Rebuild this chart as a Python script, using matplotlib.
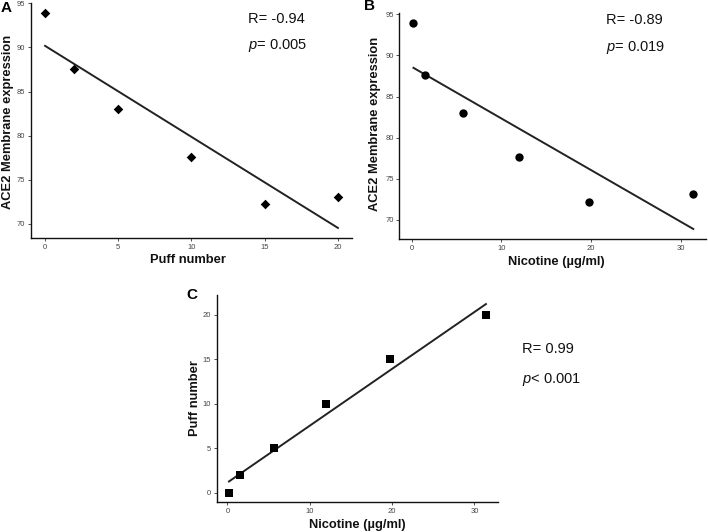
import numpy as np
import matplotlib
matplotlib.use("Agg")
import matplotlib.pyplot as plt

plt.rcParams['font.family'] = ['Liberation Sans', 'DejaVu Sans']
plt.rcParams['mathtext.fontset'] = 'custom'
plt.rcParams['mathtext.it'] = 'Liberation Sans:italic'
plt.rcParams['mathtext.rm'] = 'Liberation Sans'

# Data
puff_number = [0, 2, 5, 10, 15, 20]
nicotine = [0.2, 1.5, 5.7, 12.0, 19.8, 31.4]
ace2 = [93.9, 87.6, 83.0, 77.6, 72.2, 73.1]

ticks_A_x = [0, 5, 10, 15, 20]
ticks_ace2 = [70, 75, 80, 85, 90, 95]
ticks_nic = [0, 10, 20, 30]
ticks_puff = [0, 5, 10, 15, 20]

W, H = 708, 532
fig = plt.figure(figsize=(W / 100, H / 100), dpi=100)


def ax_px(l, t, r, b):
    return fig.add_axes([l / W, 1 - b / H, (r - l) / W, (b - t) / H])


def style(ax):
    for s in ['top', 'right']:
        ax.spines[s].set_visible(False)
    for s in ['left', 'bottom']:
        ax.spines[s].set_linewidth(1.0)
        ax.spines[s].set_color('#111111')
    ax.tick_params(length=2, width=0.6, labelsize=5.5, labelcolor='#444444',
                   color='#333333', pad=2)


def fig_text(x, y, s, **kw):
    fig.text(x / W, 1 - y / H, s, **kw)


def draw(ax, x, y, marker, ms):
    x = np.asarray(x, float)
    y = np.asarray(y, float)
    ax.scatter(x, y, marker=marker, s=ms, color='black', zorder=3, linewidths=0)
    k, c = np.polyfit(x, y, 1)
    xs = np.array([x.min(), x.max()])
    ax.plot(xs, k * xs + c, color='#222222', lw=1.4, zorder=2)


# Panel A
axA = ax_px(30.7, 3, 352, 238)
draw(axA, puff_number, ace2, 'D', 24)
axA.set_xlim(-0.98, 20.96)
axA.set_ylim(68.4, 95.03)
axA.set_xticks(ticks_A_x)
axA.set_yticks(ticks_ace2)
style(axA)

# Panel B
axB = ax_px(399.3, 13.3, 706, 239)
draw(axB, nicotine, ace2, 'o', 36)
axB.set_xlim(-1.38, 32.82)
axB.set_ylim(67.69, 95.12)
axB.set_xticks(ticks_nic)
axB.set_yticks(ticks_ace2)
style(axB)

# Panel C
axC = ax_px(216.7, 295, 498.3, 502.3)
draw(axC, nicotine, puff_number, 's', 26)
axC.set_xlim(-1.29, 32.9)
axC.set_ylim(-1.08, 22.25)
axC.set_xticks(ticks_nic)
axC.set_yticks(ticks_puff)
style(axC)

lab = dict(fontsize=9.3, fontweight='bold', color='#111111')
# axis labels
fig_text(188, 260, 'Puff number', ha='center', va='center', **lab)
fig_text(8, 122, 'ACE2 Membrane expression', ha='center', va='center', rotation=90, **lab)
fig_text(556, 262, 'Nicotine (µg/ml)', ha='center', va='center', **lab)
fig_text(375.5, 124, 'ACE2 Membrane expression', ha='center', va='center', rotation=90, **lab)
fig_text(357, 525, 'Nicotine (µg/ml)', ha='center', va='center', **lab)
fig_text(195, 398, 'Puff number', ha='center', va='center', rotation=90, **lab)

# panel letters
pl = dict(fontsize=11, fontweight='bold', ha='left', va='center', color='black')
fig_text(1, 8, 'A', **pl)
fig_text(364, 6, 'B', **pl)
fig_text(186, 295, 'C', **pl)

# stats text
st = dict(fontsize=10.5, ha='left', va='center', color='#111111')
fig_text(247.5, 19, 'R= -0.94', **st)
fig_text(247.5, 45, r'$\it{p}$= 0.005', **st)
fig_text(606, 20, 'R= -0.89', **st)
fig_text(606, 47, r'$\it{p}$= 0.019', **st)
fig_text(522, 349, 'R= 0.99', **st)
fig_text(522, 379, r'$\it{p}$< 0.001', **st)

fig.savefig('out.png', dpi=100)
